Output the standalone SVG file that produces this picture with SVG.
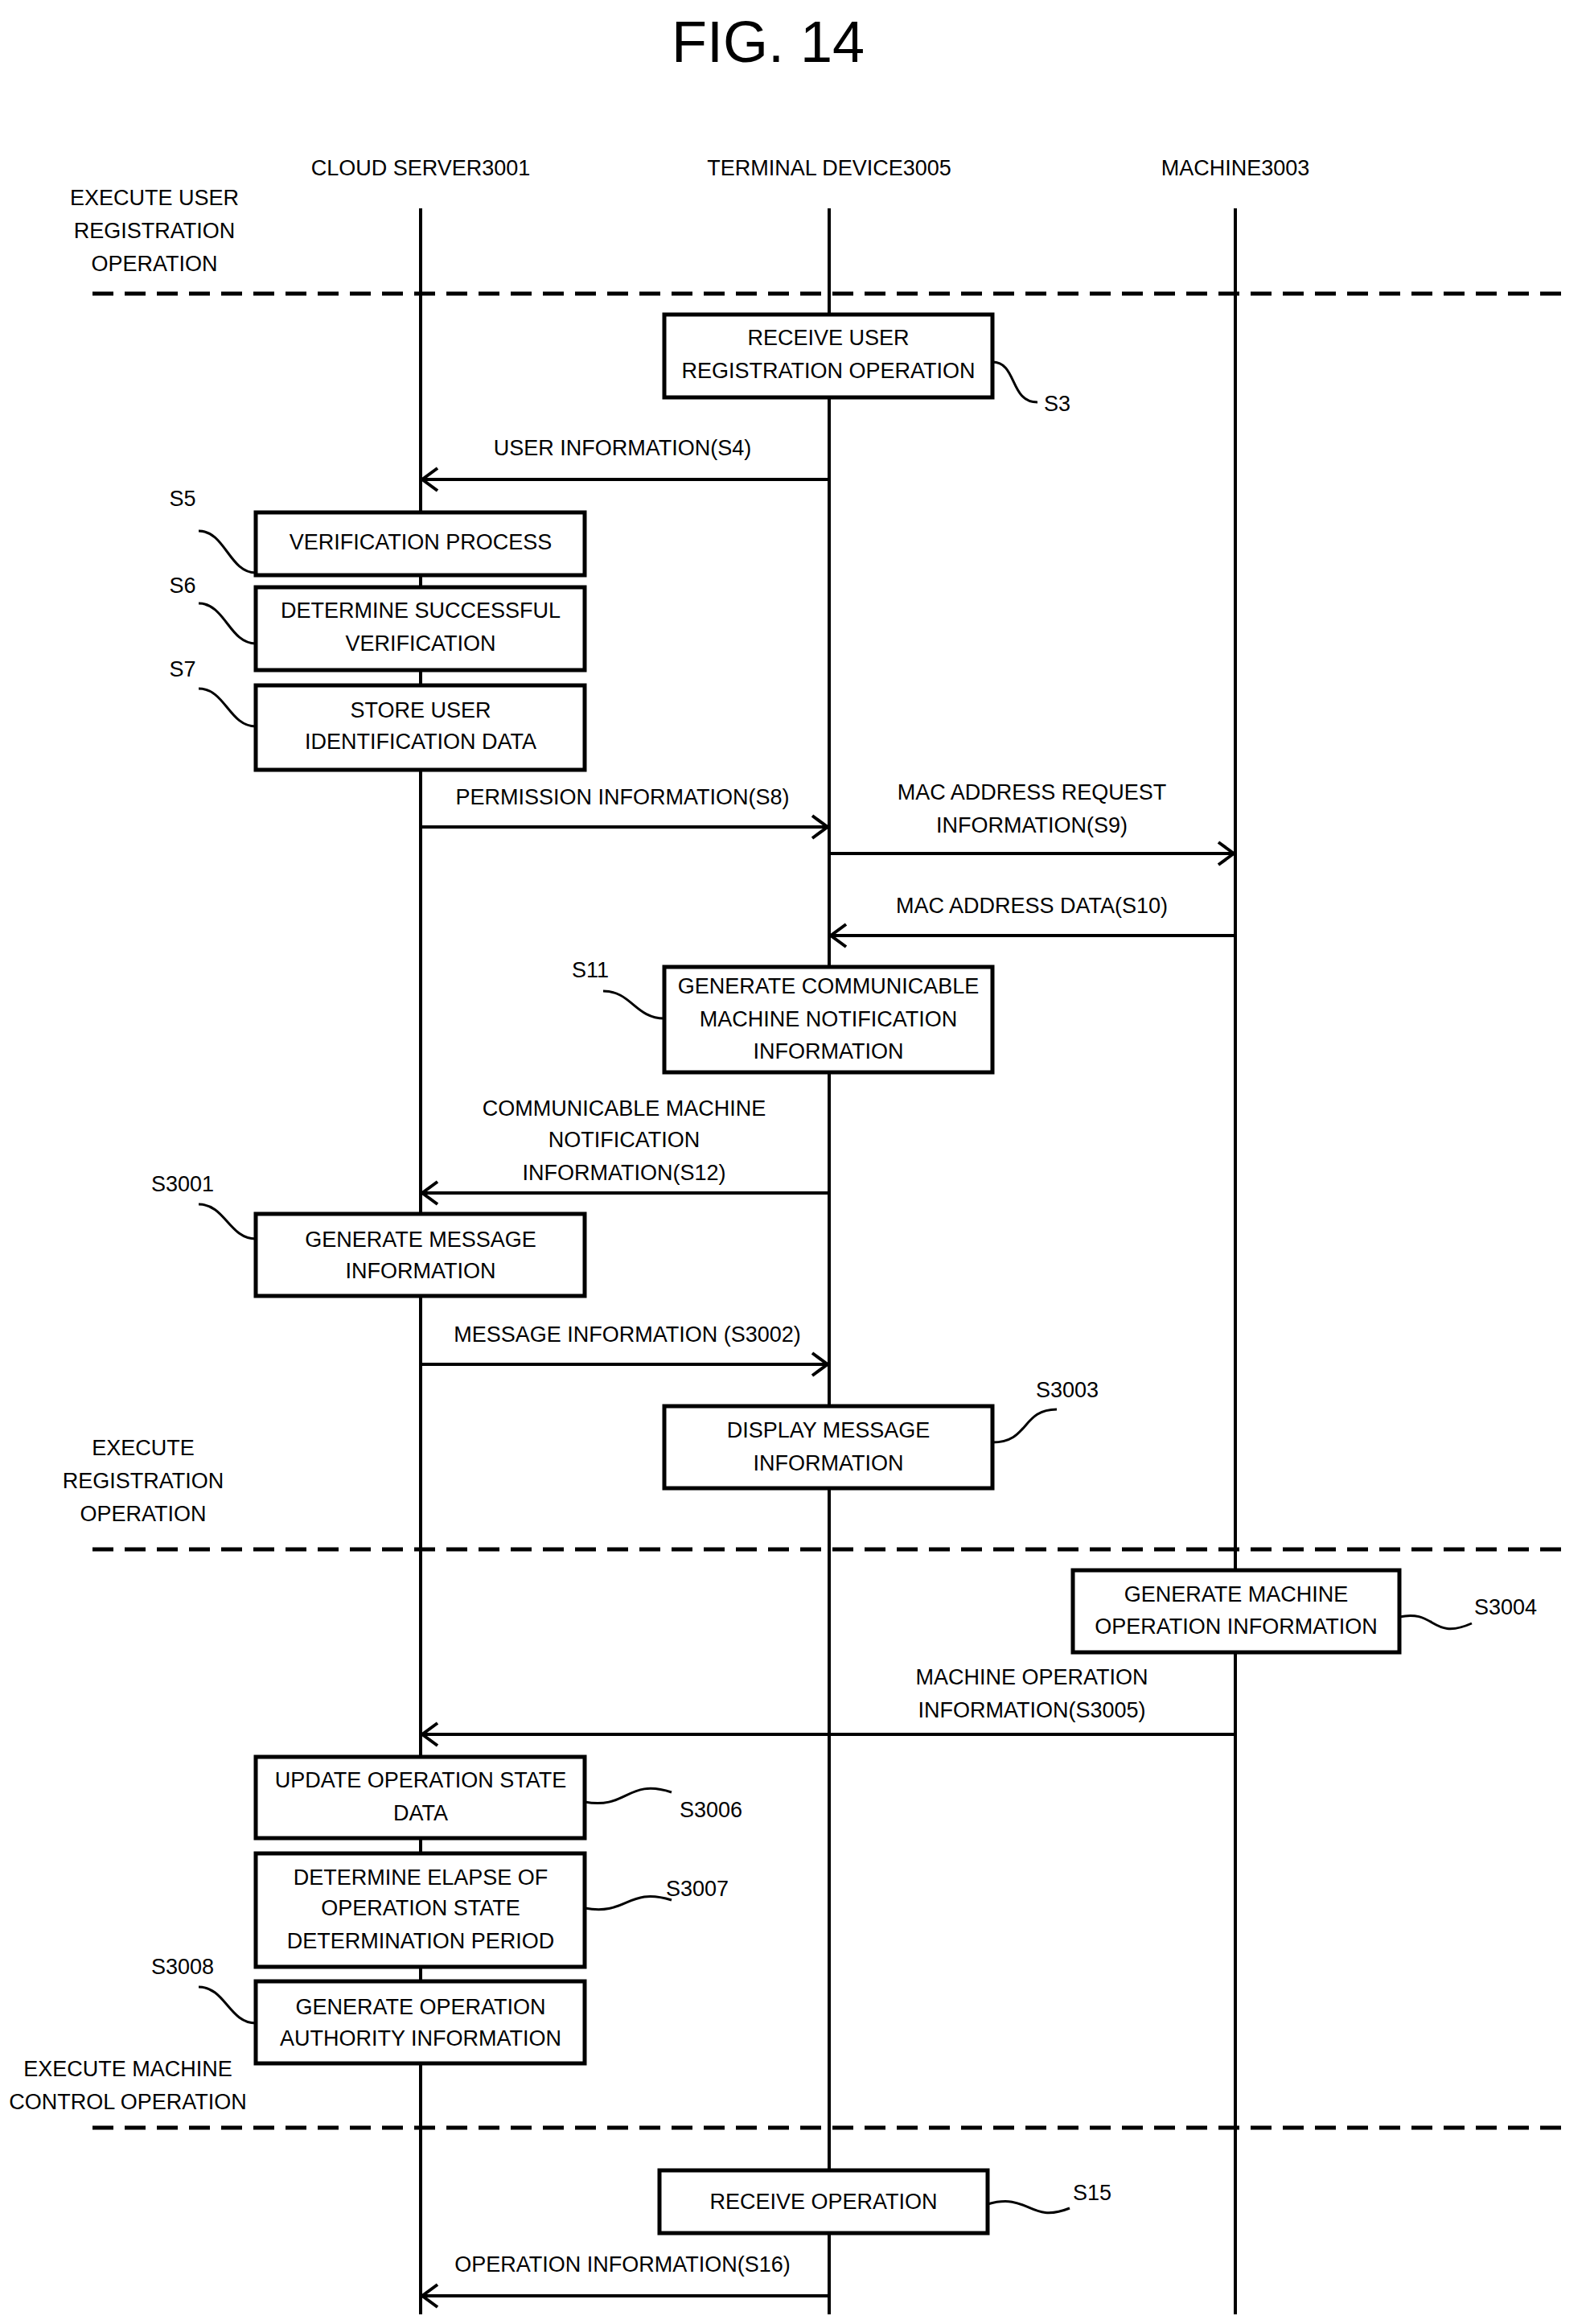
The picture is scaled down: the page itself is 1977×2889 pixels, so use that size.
<svg xmlns="http://www.w3.org/2000/svg" width="1977" height="2889" viewBox="0 0 1977 2889">
<style>
text{font-family:"Liberation Sans",Arial,sans-serif;font-size:27px;fill:#000;text-anchor:middle;dominant-baseline:central}
.l{text-anchor:start}
.box{fill:#fff;stroke:#000;stroke-width:5}
.life{stroke:#000;stroke-width:4}
.dash{stroke:#000;stroke-width:5;stroke-dasharray:26 14}
.arr{stroke:#000;stroke-width:4;fill:none;marker-end:url(#ah)}
.sq{stroke:#000;stroke-width:3;fill:none}
</style>
<defs><marker id="ah" markerWidth="10" markerHeight="12" refX="9" refY="6" orient="auto" markerUnits="userSpaceOnUse" viewBox="0 0 10 12" overflow="visible"><path d="M-10,-8 L9,6 L-10,20" fill="none" stroke="#000" stroke-width="4"/></marker></defs>
<rect width="1977" height="2889" fill="#fff"/>
<text x="955" y="52" style="font-size:72px">FIG. 14</text>
<g id="headers">
<text x="523" y="209">CLOUD SERVER3001</text>
<text x="1031" y="209">TERMINAL DEVICE3005</text>
<text x="1536" y="209">MACHINE3003</text>
</g>
<g id="lifelines">
<line class="life" x1="523" y1="259" x2="523" y2="2877"/>
<line class="life" x1="1031" y1="259" x2="1031" y2="2877"/>
<line class="life" x1="1536" y1="259" x2="1536" y2="2877"/>
</g>
<g id="phases">
<line class="dash" x1="115" y1="365" x2="1944" y2="365"/>
<line class="dash" x1="115" y1="1926" x2="1944" y2="1926"/>
<line class="dash" x1="115" y1="2645" x2="1944" y2="2645"/>
<text x="192" y="246">EXECUTE USER</text><text x="192" y="287">REGISTRATION</text><text x="192" y="328">OPERATION</text>
<text x="178" y="1800">EXECUTE</text><text x="178" y="1841">REGISTRATION</text><text x="178" y="1882">OPERATION</text>
<text x="159" y="2572">EXECUTE MACHINE</text><text x="159" y="2613">CONTROL OPERATION</text>
</g>
<g id="connectors">
<line class="arr" x1="1031" y1="596" x2="525" y2="596"/>
<text x="774" y="557">USER INFORMATION(S4)</text>
<line class="arr" x1="523" y1="1028" x2="1029" y2="1028"/>
<text x="774" y="991">PERMISSION INFORMATION(S8)</text>
<line class="arr" x1="1031" y1="1061" x2="1534" y2="1061"/>
<text x="1283" y="985">MAC ADDRESS REQUEST</text><text x="1283" y="1026">INFORMATION(S9)</text>
<line class="arr" x1="1536" y1="1163" x2="1033" y2="1163"/>
<text x="1283" y="1126">MAC ADDRESS DATA(S10)</text>
<line class="arr" x1="1031" y1="1483" x2="525" y2="1483"/>
<text x="776" y="1378">COMMUNICABLE MACHINE</text><text x="776" y="1417">NOTIFICATION</text><text x="776" y="1458">INFORMATION(S12)</text>
<line class="arr" x1="523" y1="1696" x2="1029" y2="1696"/>
<text x="780" y="1659">MESSAGE INFORMATION (S3002)</text>
<line class="arr" x1="1536" y1="2156" x2="525" y2="2156"/>
<text x="1283" y="2085">MACHINE OPERATION</text><text x="1283" y="2126">INFORMATION(S3005)</text>
<line class="arr" x1="1031" y1="2854" x2="525" y2="2854"/>
<text x="774" y="2815">OPERATION INFORMATION(S16)</text>
</g>
<g id="S3"><rect class="box" x="826" y="391" width="408" height="103"/><text x="1030" y="420">RECEIVE USER</text><text x="1030" y="461">REGISTRATION OPERATION</text><path class="sq" d="M1234,450 C1265,450 1255,500 1290,500"/><text class="l" x="1298" y="502">S3</text></g>
<g id="S5"><rect class="box" x="318" y="637" width="409" height="78"/><text x="523" y="674">VERIFICATION PROCESS</text><path class="sq" d="M247,660 C280,660 285,712 318,712"/><text x="227" y="620">S5</text></g>
<g id="S6"><rect class="box" x="318" y="730" width="409" height="103"/><text x="523" y="759">DETERMINE SUCCESSFUL</text><text x="523" y="800">VERIFICATION</text><path class="sq" d="M247,750 C280,750 285,800 318,800"/><text x="227" y="728">S6</text></g>
<g id="S7"><rect class="box" x="318" y="852" width="409" height="105"/><text x="523" y="883">STORE USER</text><text x="523" y="922">IDENTIFICATION DATA</text><path class="sq" d="M247,856 C280,856 285,903 318,903"/><text x="227" y="832">S7</text></g>
<g id="S11"><rect class="box" x="826" y="1202" width="408" height="131"/><text x="1030" y="1226">GENERATE COMMUNICABLE</text><text x="1030" y="1267">MACHINE NOTIFICATION</text><text x="1030" y="1307">INFORMATION</text><path class="sq" d="M750,1232 C785,1232 790,1266 826,1266"/><text x="734" y="1206">S11</text></g>
<g id="S3001"><rect class="box" x="318" y="1509" width="409" height="102"/><text x="523" y="1541">GENERATE MESSAGE</text><text x="523" y="1580">INFORMATION</text><path class="sq" d="M247,1497 C280,1497 285,1540 318,1540"/><text x="227" y="1472">S3001</text></g>
<g id="S3003"><rect class="box" x="826" y="1748" width="408" height="102"/><text x="1030" y="1778">DISPLAY MESSAGE</text><text x="1030" y="1819">INFORMATION</text><path class="sq" d="M1234,1793 C1280,1793 1270,1752 1314,1752"/><text x="1327" y="1728">S3003</text></g>
<g id="S3004"><rect class="box" x="1334" y="1952" width="406" height="102"/><text x="1537" y="1982">GENERATE MACHINE</text><text x="1537" y="2022">OPERATION INFORMATION</text><path class="sq" d="M1740,2010 C1785,2000 1780,2040 1830,2018"/><text x="1872" y="1998">S3004</text></g>
<g id="S3006"><rect class="box" x="318" y="2184" width="409" height="101"/><text x="523" y="2213">UPDATE OPERATION STATE</text><text x="523" y="2254">DATA</text><path class="sq" d="M727,2240 C780,2250 780,2210 835,2228"/><text x="884" y="2250">S3006</text></g>
<g id="S3007"><rect class="box" x="318" y="2304" width="409" height="141"/><text x="523" y="2334">DETERMINE ELAPSE OF</text><text x="523" y="2372">OPERATION STATE</text><text x="523" y="2413">DETERMINATION PERIOD</text><path class="sq" d="M727,2372 C780,2382 780,2345 835,2362"/><text x="867" y="2348">S3007</text></g>
<g id="S3008"><rect class="box" x="318" y="2463" width="409" height="102"/><text x="523" y="2495">GENERATE OPERATION</text><text x="523" y="2534">AUTHORITY INFORMATION</text><path class="sq" d="M247,2470 C280,2470 285,2515 318,2515"/><text x="227" y="2445">S3008</text></g>
<g id="S15"><rect class="box" x="820" y="2698" width="408" height="78"/><text x="1024" y="2737">RECEIVE OPERATION</text><path class="sq" d="M1228,2740 C1280,2725 1280,2765 1330,2745"/><text x="1358" y="2726">S15</text></g>
</svg>
